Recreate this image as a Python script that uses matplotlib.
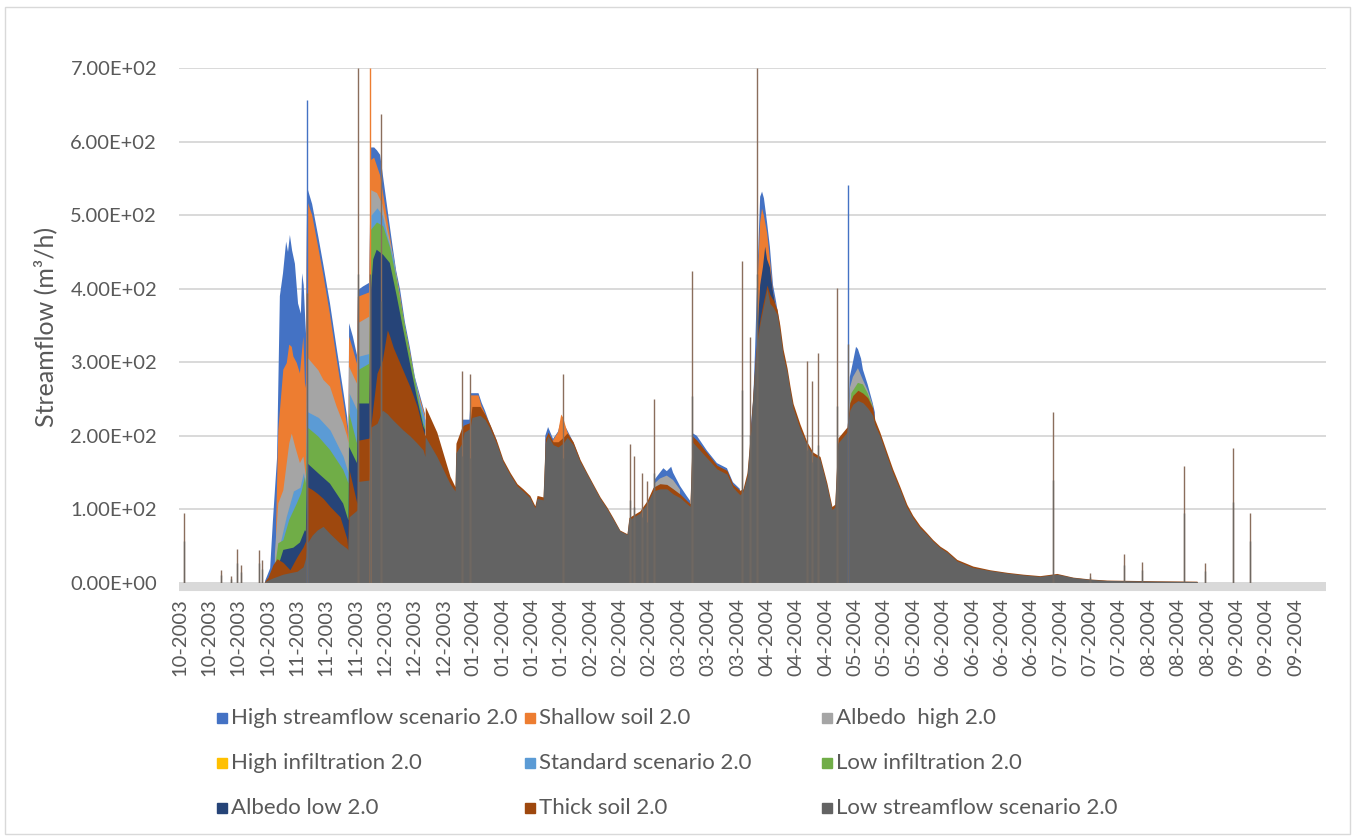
import numpy as np
import matplotlib
matplotlib.use('Agg')
import matplotlib.pyplot as plt
from matplotlib.patches import Rectangle
from matplotlib.ticker import FuncFormatter

nan = float('nan')

# x values are days since 01-10-2003 00:00 (hourly model output)
scenarios = ['High streamflow scenario 2.0', 'Shallow soil 2.0', 'Albedo  high 2.0',
             'High infiltration 2.0', 'Standard scenario 2.0', 'Low infiltration 2.0',
             'Albedo low 2.0', 'Thick soil 2.0', 'Low streamflow scenario 2.0']
colors = ['#4472C4', '#ED7D31', '#A5A5A5', '#FFC000', '#5B9BD5', '#70AD47',
          '#264478', '#9E480E', '#636363']

tick_labels = (['10-2003'] * 4 + ['11-2003'] * 3 + ['12-2003'] * 3 + ['01-2004'] * 4 +
               ['02-2004'] * 3 + ['03-2004'] * 3 + ['04-2004'] * 3 + ['05-2004'] * 3 +
               ['06-2004'] * 4 + ['07-2004'] * 3 + ['08-2004'] * 3 + ['09-2004'] * 3)

# whole year: low streamflow (front) and thick soil
base_day = [0.0, 27.0, 27.4, 28.3, 29.9, 31.2, 33.1, 35.3, 37.6, 39.5, 40.4, 40.8, 42.4, 44.0,
            45.9, 48.1, 51.3, 53.5, 53.8, 54.2, 56.7, 57.0, 60.6, 61.2, 63.1, 64.8, 66.4, 67.2,
            68.3, 69.5, 71.4, 73.6, 75.9, 77.8, 78.4, 78.5, 82.2, 86.4, 88.0, 88.3, 90.2, 90.9,
            92.8, 93.4, 96.0, 97.6, 99.2, 101.4, 103.3, 105.6, 107.8, 109.7, 111.9, 113.5, 114.2,
            116.1, 116.8, 117.7, 119.3, 120.9, 122.5, 123.8, 125.7, 127.9, 130.1, 132.0, 134.3,
            136.5, 138.4, 140.6, 142.9, 143.5, 147.0, 149.3, 151.2, 153.4, 155.6, 157.6, 159.8,
            162.0, 163.0, 163.7, 165.2, 168.4, 171.6, 174.8, 176.7, 178.9, 179.9, 181.2, 182.2,
            183.8, 184.4, 185.4, 186.3, 187.6, 188.5, 189.5, 190.8, 191.7, 192.7, 194.0, 194.9,
            195.9, 198.1, 200.3, 202.2, 204.5, 206.7, 208.3, 209.2, 210.2, 213.1, 214.0, 215.0,
            216.6, 218.2, 219.7, 221.3, 222.0, 223.6, 225.8, 227.7, 230.0, 232.2, 234.1, 236.4,
            238.6, 240.5, 242.8, 245.0, 248.2, 253.3, 258.7, 264.2, 269.3, 274.7, 280.1, 285.2,
            290.6, 296.0, 312.0, 324.8, 325.0, 366.0]
low_streamflow = [0, 0, 2, 4, 7, 9, 12, 14, 16, 22, 35, 54, 65, 72,
                  77, 67, 54, 47, 45, 90, 99, 138, 140, 212, 217, 235, 230, 226,
                  221, 216, 208, 200, 190, 181, 172, 199, 172, 135, 125, 177, 190, 205,
                  210, 225, 228, 222, 210, 188, 165, 147, 132, 125, 116, 102, 115,
                  113, 190, 200, 188, 185, 190, 198, 188, 165, 148, 133, 115,
                  101, 87, 71, 66, 86, 95, 108, 125, 128, 128, 121, 116,
                  108, 104, 192, 185, 170, 155, 148, 130, 120, 124, 145, 195,
                  300, 326, 354, 373, 400, 380, 375, 365, 342, 310, 286, 262,
                  238, 210, 188, 174, 168, 132, 100, 103, 190, 205, 235, 243,
                  248, 245, 238, 228, 215, 200, 173, 150, 127, 103, 89, 75,
                  66, 57, 48, 42, 30, 21, 17, 13.5, 11, 9, 12, 7.5,
                  5, 3.5, 2.5, 2, 0, 0]
thick_soil = [0, 0, 3, 8, 25, 33, 28, 18, 36, 49, 58, 131, 127, 122,
              115, 104, 90, 60, 45, 154, 108, 194, 197, 217, 285, 303, 344, 335,
              320, 308, 289, 267, 240, 208, 200, 240, 205, 145, 131, 190, 212, 215,
              218, 240, 240, 229, 215, 192, 168, 150, 135, 128, 119, 105, 119,
              117, 196, 205, 192, 192, 198, 204, 192, 168, 150, 135, 117,
              103, 89, 72, 67, 89, 98, 112, 130, 135, 134, 128, 121,
              112, 108, 200, 194, 177, 160, 153, 134, 126, 128, 150, 200,
              305, 332, 360, 380, 405, 392, 385, 372, 350, 318, 292, 268,
              244, 216, 192, 178, 172, 136, 104, 107, 197, 212, 245, 255,
              262, 258, 252, 238, 222, 205, 178, 155, 131, 107, 92, 78,
              68, 59, 50, 44, 32, 23, 18, 14.5, 12, 10, 13, 8,
              5.5, 4, 3, 2.5, 0, 0]

# scenarios that only show above the others in some periods (nan = gap)
high_streamflow_day = [27.4, 29.0, 29.9, 31.2, 32.1, 33.1, 34.1, 34.7, 35.3, 36.0, 36.9, 37.9, 38.8,
                       39.2, 39.7, 40.4, 40.8, 42.4, 44.4, 46.0, 48.1, 50.2, 52.3, 53.6, 54.0, 54.2,
                       55.4, 56.7, 57.0, 58.6, 60.6, 61.2, 62.2, 63.1, 64.1, 65.4, 66.7, 68.0, 69.2,
                       70.5, 72.0, 73.6, 75.2, 76.8, 78.1, 78.4, nan,
                       90.5, 92.6, 93.1, 95.5, 96.5, 97.6, 99.2, 101.4, nan,
                       116.8, 117.7, 119.3, 120.9, 121.9, 123.8, 125.7, 127.9, nan,
                       151.6, 153.4, 154.5, 155.6, 157.0, 157.6, 159.8, 162.0, 163.0, nan,
                       163.7, 165.2, 168.4, 171.6, 174.8, 176.7, 178.9, nan,
                       182.2, 183.2, 183.8, 184.5, 185.4, 186.0, 186.6, 187.6, 188.5, 189.5, 190.5,
                       191.7, nan,
                       213.4, 214.0, 215.0, 216.0, 216.6, 217.6, 218.2, 219.7, 221.3, 222.0]
high_streamflow = [3, 20, 86, 170, 390, 421, 464, 450, 473, 452, 434, 380, 366,
                   421, 405, 339, 538, 515, 470, 432, 380, 320, 262, 225, 205, 353,
                   335, 310, 398, 403, 408, 592, 592, 588, 582, 541, 500, 460, 425,
                   398, 355, 320, 280, 255, 235, 230, nan,
                   222, 222, 258, 258, 245, 234, 215, 193, nan,
                   200, 212, 196, 206, 222, 208, 192, 168, nan,
                   140, 150, 156, 152, 158, 150, 132, 118, 112, nan,
                   204, 200, 180, 163, 156, 137, 128, nan,
                   204, 250, 320, 420, 525, 532, 523, 490, 457, 405, 382,
                   350, nan,
                   215, 280, 300, 321, 318, 305, 290, 270, 245, 232]

shallow_soil_day = [30.9, 31.6, 33.2, 34.3, 35.1, 35.9, 36.4, 37.5, 38.5, 39.6, 40.1, 40.4, 40.8,
                    42.4, 44.4, 46.0, 48.1, 50.2, 52.3, 53.6, 54.0, 54.2, 55.4, 56.7, 57.0, 60.6,
                    61.2, 62.2, 64.1, 65.4, 66.7, 68.0, 70.5, 72.0, 73.6, 75.2, 76.8, 78.4, nan,
                    93.1, 95.5, 96.5, 97.6, 99.2, 101.4, nan,
                    119.3, 120.9, 121.9, 122.5, 123.8, 125.7, nan,
                    184.5, 185.4, 186.0, 186.6, 187.6, 188.5, 189.5, 190.5]
shallow_soil = [81, 208, 290, 299, 324, 321, 308, 299, 285, 335, 272, 265, 520,
                500, 455, 418, 365, 305, 248, 212, 195, 335, 318, 298, 389, 395,
                575, 578, 554, 520, 486, 450, 390, 348, 315, 275, 252, 228, nan,
                255, 255, 240, 230, 213, 191, nan,
                194, 205, 229, 225, 206, 190, nan,
                400, 490, 509, 499, 476, 440, 395, 375]

albedo_high_day = [30.5, 31.6, 33.2, 35.1, 35.9, 37.0, 38.5, 39.6, 40.4, 40.8, 44.4, 46.0, 48.1,
                   50.2, 52.3, 53.6, 54.0, 54.2, 56.7, 57.0, 60.6, 61.2, 63.1, 64.8, 66.4, 68.3,
                   70.5, 73.6, 76.8, 78.4, nan,
                   151.6, 153.4, 155.6, 157.6, 159.8, nan,
                   213.4, 214.0, 215.0, 216.6, 218.2, 219.7, 221.3]
albedo_high = [40, 108, 126, 190, 203, 185, 163, 172, 145, 307, 289, 276, 267,
               240, 217, 199, 190, 294, 271, 353, 362, 534, 530, 515, 480, 445,
               385, 310, 248, 225, nan,
               135, 142, 146, 140, 127, nan,
               210, 265, 280, 292, 276, 262, 242]

high_infiltration_day = [31.0, 32.5, 34.1, 36.4, 38.5, 39.6, 40.4, 40.8, 44.4, 48.1, 52.3, 54.0,
                         54.2, 56.7, 57.0, 60.6]
high_infiltration = [28, 57, 88, 124, 128, 147, 128, 230, 222, 205, 170, 148,
                     255, 232, 305, 309]

standard_day = [31.0, 32.5, 34.1, 36.4, 38.5, 39.6, 40.4, 40.8, 44.4, 48.1, 52.3, 53.6, 54.0,
                54.2, 56.7, 57.0, 60.6, 61.2, 63.1, 64.8, 66.4, 68.3, 70.5, 73.6, 76.8, 78.4]
standard = [30, 60, 90, 125, 130, 150, 130, 233, 225, 208, 172, 154, 150,
            258, 235, 308, 312, 500, 510, 500, 470, 440, 380, 305, 245, 222]

low_infiltration_day = [30.5, 31.6, 33.2, 35.1, 37.5, 38.9, 40.1, 40.4, 40.8, 44.4, 48.1, 52.3,
                        53.6, 54.0, 54.2, 56.7, 57.0, 60.6, 61.2, 63.1, 65.1, 67.2, 69.4, 72.6,
                        75.8, 77.9, 78.4, nan,
                        213.4, 214.5, 216.6, 218.2, 219.7, 221.3]
low_infiltration = [20, 54, 58, 86, 108, 122, 144, 135, 212, 199, 181, 154,
                    140, 135, 231, 190, 289, 298, 480, 490, 485, 457, 412, 335,
                    263, 217, 212, nan,
                    205, 258, 272, 270, 258, 240]

albedo_low_day = [31.0, 33.2, 36.4, 38.5, 40.1, 40.4, 40.8, 44.4, 48.1, 52.3, 53.6, 54.0, 54.2,
                  56.7, 57.0, 60.6, 61.2, 61.9, 63.0, 65.1, 67.2, 69.4, 71.5, 73.6, 75.8, 77.9,
                  78.4, nan,
                  184.5, 185.4, 186.3, 187.0, 187.6, 188.5, 189.5, 190.5]
albedo_low = [15, 45, 48, 55, 72, 70, 163, 149, 135, 108, 90, 85, 185,
              163, 244, 244, 400, 440, 453, 446, 435, 390, 344, 299, 253, 213,
              208, nan,
              340, 405, 430, 457, 440, 429, 395, 372]

# single-hour rain peaks
spike_day = [1.5, 13.3, 16.5, 18.4, 19.7, 25.4, 26.4, 40.8, 57.0, 61.0, 64.4, 90.2, 92.8, 122.5,
             143.8, 145.1, 147.6, 149.2, 151.5, 163.7, 179.5, 182.2, 184.4, 200.2, 201.8, 203.9,
             209.9, 213.4, 278.8, 290.8, 301.5, 307.2, 320.8, 327.4, 336.4, 341.7]
spike_height = [95, 18, 9, 46, 24, 45, 31, 656, 700, 700, 638, 288, 284, 284,
                189, 172, 150, 139, 250, 424, 438, 335, 700, 302, 274, 312,
                401, 541, 233, 13, 40, 29, 159, 27, 183, 95]
spike_top = ['Thick soil 2.0'] * 36
spike_top[7] = 'High streamflow scenario 2.0'
spike_top[9] = 'Shallow soil 2.0'
spike_top[27] = 'High streamflow scenario 2.0'

layers = [(high_streamflow_day, high_streamflow), (shallow_soil_day, shallow_soil),
          (albedo_high_day, albedo_high), (high_infiltration_day, high_infiltration),
          (standard_day, standard), (low_infiltration_day, low_infiltration),
          (albedo_low_day, albedo_low), (base_day, thick_soil), (base_day, low_streamflow)]

W, H = 1355, 839
text_color = '#595959'
plt.rcParams['font.family'] = ['Lato', 'DejaVu Sans']

fig = plt.figure(figsize=(W / 100, H / 100), dpi=100)
ax = fig.add_axes([179.3 / W, 1 - 583 / H, (1326 - 179.3) / W, (583 - 68) / H])

# Excel draws the series one over the other, first series at the back
spike_color = {'Thick soil 2.0': '#8A6E5C', 'High streamflow scenario 2.0': '#4472C4',
               'Shallow soil 2.0': '#ED7D31'}
for i, (d, v) in enumerate(layers):
    ax.fill_between(np.array(d, float), np.array(v, float), 0, color=colors[i], lw=0, zorder=2 + i)
ax.vlines(spike_day, 0, spike_height, colors=[spike_color[s] for s in spike_top],
          lw=1.0, zorder=20)
ax.vlines(spike_day, 0, 0.6 * np.array(spike_height), colors='#6F6862', lw=1.0, zorder=21)

ax.set_xlim(0, 366)
ax.set_ylim(0, 700)
ax.set_yticks(np.arange(0, 701, 100))
ax.yaxis.set_major_formatter(FuncFormatter(lambda v, p: f'{v:.2E}'))
ax.grid(axis='y', color='#D9D9D9', lw=1.4, zorder=0)
ax.set_axisbelow(True)
for s in ax.spines.values():
    s.set_visible(False)

tick_pos = [(i * 225 + 0.5) / 24 for i in range(len(tick_labels))]
ax.set_xticks(tick_pos)
ax.set_xticklabels(tick_labels, rotation=90)
ax.tick_params(axis='x', length=0, pad=11, labelsize=14.5, labelcolor=text_color)
ax.tick_params(axis='y', length=0, pad=16, labelsize=14.5, labelcolor=text_color)

# thick light grey category axis line
ax.plot([0, 1], [-0.0078, -0.0078], transform=ax.transAxes, color='#D9D9D9', lw=5.8,
        solid_capstyle='butt', clip_on=False, zorder=30)

fig.text(45 / W, 1 - 327 / H, 'Streamflow (m³/h)', rotation=90, ha='center', va='center',
         fontsize=18, color=text_color)

# legend, three columns
col_x = [222, 530, 827]
for i, name in enumerate(scenarios):
    x = col_x[i % 3]
    y = 718 + (i // 3) * 45
    fig.patches.append(Rectangle(((x - 5) / W, 1 - (y + 5) / H), 10 / W, 10 / H,
                                 transform=fig.transFigure, color=colors[i]))
    fig.text((x + 9) / W, 1 - y / H, name, ha='left', va='center', fontsize=16,
             color=text_color)

fig.patches.append(Rectangle((5 / W, 1 - 834 / H), 1345 / W, 827 / H, transform=fig.transFigure,
                             fill=False, edgecolor='#D9D9D9', lw=1))

fig.savefig('out.png', dpi=100)
